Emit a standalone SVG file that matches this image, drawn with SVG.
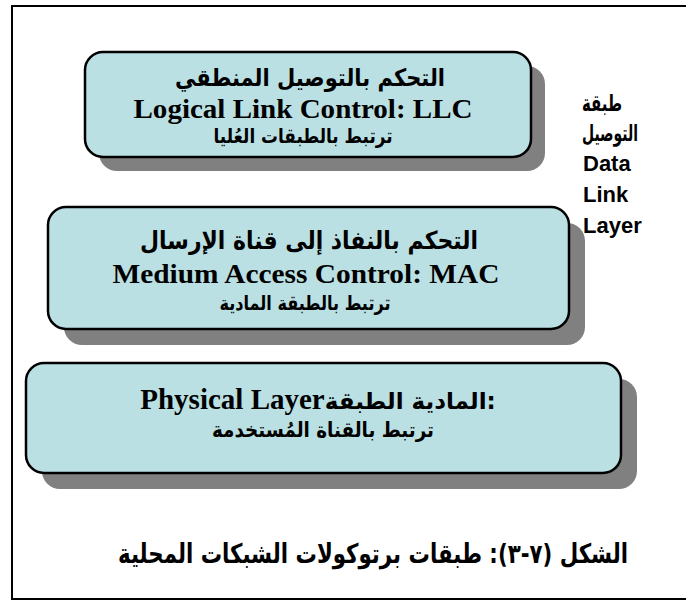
<svg xmlns="http://www.w3.org/2000/svg" width="686" height="601" viewBox="0 0 686 601">
<style>
.frame{fill:#fff;stroke:#000;stroke-width:2}
.box{fill:#BAE0E4;stroke:#000;stroke-width:2.5}
.shadow{fill:#808080}
.ar{font-family:"DejaVu Sans","Noto Sans",sans-serif;font-weight:bold;fill:#000}
.en{font-family:"Liberation Serif","Times New Roman",serif;font-weight:bold;fill:#000}
.lbl{font-family:"Liberation Sans",Arial,sans-serif;font-weight:bold;fill:#000;font-size:22px}
.lblar{font-family:"DejaVu Sans",sans-serif;font-weight:bold;fill:#000;font-size:23px}
</style>
<rect class="frame" x="12" y="6" width="690" height="593"/>
<g id="llc">
<rect class="shadow" x="99" y="66" width="446" height="105" rx="18"/>
<rect class="box" x="85" y="52" width="446" height="105" rx="18"/>
<text class="ar" x="310" y="86" font-size="24" text-anchor="middle" direction="rtl" textLength="270" lengthAdjust="spacingAndGlyphs">التحكم بالتوصيل المنطقي</text>
<text class="en" x="303" y="118" font-size="28" text-anchor="middle" textLength="339" lengthAdjust="spacingAndGlyphs">Logical Link Control: LLC</text>
<text class="ar" x="303" y="143" font-size="20" text-anchor="middle" direction="rtl" textLength="179" lengthAdjust="spacingAndGlyphs">ترتبط بالطبقات العُليا</text>
</g>
<g id="mac">
<rect class="shadow" x="64" y="223" width="521" height="122" rx="18"/>
<rect class="box" x="48" y="207" width="521" height="122" rx="18"/>
<text class="ar" x="309" y="249" font-size="25" text-anchor="middle" direction="rtl" textLength="338" lengthAdjust="spacingAndGlyphs">التحكم بالنفاذ إلى قناة الإرسال</text>
<text class="en" x="306" y="283" font-size="28" text-anchor="middle" textLength="387" lengthAdjust="spacingAndGlyphs">Medium Access Control: MAC</text>
<text class="ar" x="305" y="310" font-size="20" text-anchor="middle" direction="rtl" textLength="171" lengthAdjust="spacingAndGlyphs">ترتبط بالطبقة المادية</text>
</g>
<g id="phy">
<rect class="shadow" x="42" y="379" width="595" height="110" rx="18"/>
<rect class="box" x="26" y="363" width="595" height="110" rx="18"/>
<text x="318" y="409" text-anchor="middle" direction="ltr"><tspan class="en" font-size="29">Physical Layer</tspan><tspan class="ar" font-size="23">الطبقة&#x200E; المادية&#x200E;:</tspan></text>
<text class="ar" x="323" y="437" font-size="21" text-anchor="middle" direction="rtl" textLength="222" lengthAdjust="spacingAndGlyphs">ترتبط بالقناة المُستخدمة</text>
</g>
<g id="dll">
<text class="lblar" x="602" y="111" text-anchor="middle" direction="rtl" textLength="40" lengthAdjust="spacingAndGlyphs">طبقة</text>
<text class="lblar" x="610" y="141" text-anchor="middle" direction="rtl" textLength="56" lengthAdjust="spacingAndGlyphs">التوصيل</text>
<text class="lbl" x="583" y="171">Data</text>
<text class="lbl" x="583" y="202">Link</text>
<text class="lbl" x="583" y="233">Layer</text>
</g>
<g id="caption">
<text class="ar" x="373" y="563" font-size="27" text-anchor="middle" direction="rtl" textLength="510" lengthAdjust="spacingAndGlyphs">الشكل (٧-٣): طبقات برتوكولات الشبكات المحلية</text>
</g>
<g id="connectors"></g>
</svg>
